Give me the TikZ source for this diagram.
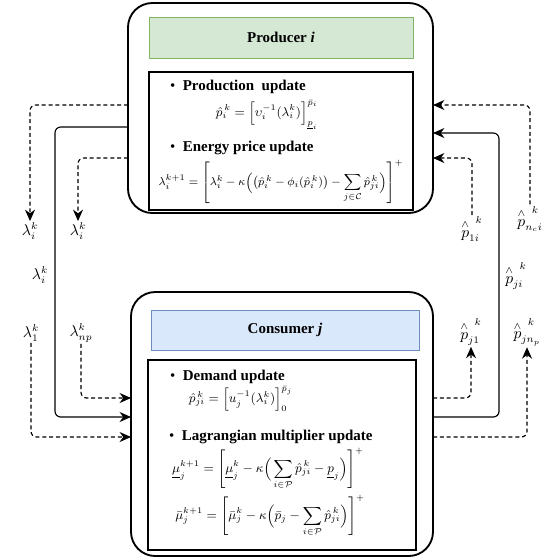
\documentclass[tikz,border=0pt]{standalone}
\usepackage{amsmath}
\usepackage{fontspec}
\setmainfont{Liberation Serif}
\usetikzlibrary{
    arrows.meta
  , calc
  , positioning
}
\definecolor{prodfill}{HTML}{D5E8D4}
\definecolor{prodline}{HTML}{82B366}
\definecolor{consfill}{HTML}{DAE8FC}
\definecolor{consline}{HTML}{6C8EBF}

\begin{document}
\begin{tikzpicture}[x=0.7pt, y=-0.7pt,
    >={Stealth[length=8pt, width=7pt]},
    every node/.style={font=\fontsize{10.5}{12.5}\selectfont},
    outerbox/.style={draw, line width=1.3pt, rounded corners=17pt},
    headbox/.style={draw, line width=0.6pt, font=\fontsize{10.5}{12.5}\selectfont\bfseries},
    bodybox/.style={draw, line width=0.8pt},
    eq/.style={inner sep=0pt, font=\fontsize{8.6}{10}\selectfont},
    link/.style={line width=0.8pt, rounded corners=4pt},
    dlink/.style={link, dash pattern=on 2.8pt off 2pt},
    lbl/.style={inner sep=1pt}]
  \useasboundingbox (0,0) rectangle (560,559);
  % Producer
  \node[outerbox, minimum width=213.5pt, minimum height=147pt] (prod) at (280.5,108) {};
  \node[headbox, fill=prodfill, draw=prodline, minimum width=184.8pt, minimum height=28.7pt] (prodhead) at (281,37.5) {Producer \textit{i}};
  \node[bodybox, minimum width=184.8pt, minimum height=96.6pt] (prodbody) at (281,141) {};
  \node[anchor=west] (produpd) at (165,87) {\textbullet\enspace\textbf{Production\ \ update}};
  \node[eq] (prodeq) at (267,115) {$\hat{p}_i^{\,k} = \Big[\upsilon_i^{-1}(\lambda_i^k)\Big]_{\underline{p}_i}^{\bar{p}_i}$};
  \node[anchor=west] (priceupd) at (165,148) {\textbullet\enspace\textbf{Energy price update}};
  \node[eq, font=\fontsize{8.2}{10}\selectfont] (priceeq) at (281,182) {$\displaystyle \lambda_i^{k+1} = \left[\lambda_i^k - \kappa\Big(\big(\hat{p}_i^{\,k} - \phi_i(\hat{p}_i^{\,k})\big) - \sum_{j\in\mathcal{C}} \hat{p}_{ji}^{\,k}\Big)\right]^+$};
  % Consumer
  \node[outerbox, minimum width=211.4pt, minimum height=184.8pt] (cons) at (282,424) {};
  \node[headbox, fill=consfill, draw=consline, minimum width=187.6pt, minimum height=28pt] (conshead) at (285,330) {Consumer \textit{j}};
  \node[bodybox, minimum width=187.6pt, minimum height=133pt] (consbody) at (282,455) {};
  \node[anchor=west] (demupd) at (165,377) {\textbullet\enspace\textbf{Demand update}};
  \node[eq] (demeq) at (241,399) {$\hat{p}_{ji}^{\,k} = \Big[u_j^{-1}(\lambda_i^k)\Big]_0^{\bar{p}_j}$};
  \node[anchor=west] (lagupd) at (164,437) {\textbullet\enspace\textbf{Lagrangian multiplier update}};
  \node[eq] (lowmu) at (268,469) {$\displaystyle \underline{\mu}_j^{k+1} = \left[\underline{\mu}_j^k - \kappa\Big(\sum_{i\in\mathcal{P}} \hat{p}_{ji}^{\,k} - \underline{p}_j\Big)\right]^+$};
  \node[eq] (upmu) at (270,516) {$\displaystyle \bar{\mu}_j^{k+1} = \left[\bar{\mu}_j^k - \kappa\Big(\bar{p}_j - \sum_{i\in\mathcal{P}} \hat{p}_{ji}^{\,k}\Big)\right]^+$};
  % Tap points on the boxes
  \coordinate (pw1) at (128,105);
  \coordinate (pw2) at (128,127);
  \coordinate (pw3) at (128,158);
  \coordinate (pe1) at (433,105);
  \coordinate (pe2) at (433,133);
  \coordinate (pe3) at (433,158);
  \coordinate (cw1) at (131,398);
  \coordinate (cw2) at (131,417);
  \coordinate (cw3) at (131,437);
  \coordinate (ce1) at (433,398);
  \coordinate (ce2) at (433,417);
  \coordinate (ce3) at (433,437);
  % Price labels
  \node[lbl] (lamA) at (30,231) {$\lambda_i^k$};
  \node[lbl] (lamB) at (78,231) {$\lambda_i^k$};
  \node[lbl] (lamC) at (40,275) {$\lambda_i^k$};
  \node[lbl] (lamD) at (31,333) {$\lambda_1^k$};
  \node[lbl] (lamE) at (81,333) {$\lambda_{np}^k$};
  % Power labels
  \node[lbl] (pA) at (530,219) {$\overset{\wedge}{p}_{n_ci}^{\;\;k}$};
  \node[lbl] (pB) at (472,229) {$\overset{\wedge}{p}_{1i}^{\;\;k}$};
  \node[lbl] (pJ) at (516,276) {$\overset{\wedge}{p}_{ji}^{\;\;k}$};
  \node[lbl] (pC) at (471,332) {$\overset{\wedge}{p}_{j1}^{\;\;k}$};
  \node[lbl] (pD) at (527,332) {$\overset{\wedge}{p}_{jn_p}^{\;\;k}$};
  % Producer to consumer
  \draw[dlink,->] (pw1) -| (lamA.north);
  \draw[dlink,->] (pw3) -| (lamB.north);
  \draw[link,->] (pw2) -| ($(cw2)+(-76,0)$) -- (cw2);
  \draw[dlink,->] (lamD.south) |- (cw3);
  \draw[dlink,->] (lamE.south) |- (cw1);
  % Consumer to producer
  \draw[dlink,->] (pA.north) |- (pe1);
  \draw[dlink,->] (pB.north) |- (pe3);
  \draw[link,->] (ce2) -| ($(pe2)+(66,0)$) -- (pe2);
  \draw[dlink,->] (ce1) -| (pC.south);
  \draw[dlink,->] (ce3) -| (pD.south);
\end{tikzpicture}
\end{document}
